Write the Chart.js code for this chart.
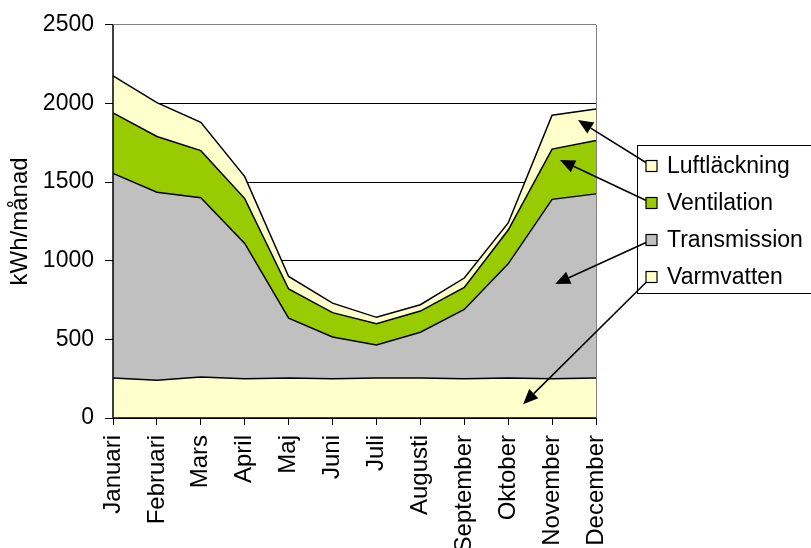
<!DOCTYPE html>
<html>
<head>
<meta charset="utf-8">
<script src="https://cdn.jsdelivr.net/npm/chart.js@4.4.1/dist/chart.umd.min.js"></script>
<style>
  html, body { margin: 0; padding: 0; background: #fff; }
  #wrap { width: 811px; height: 548px; }
</style>
</head>
<body>
<div id="wrap"><canvas id="energi"></canvas></div>
<script>
// Månadsdata (kWh/månad)
const manader = ['Januari', 'Februari', 'Mars', 'April', 'Maj', 'Juni', 'Juli',
    'Augusti', 'September', 'Oktober', 'November', 'December'];
const varmvatten   = [255, 240, 260, 250, 255, 250, 255, 255, 250, 255, 250, 255];
const transmission = [1300, 1195, 1140, 860, 380, 265, 210, 290, 440, 725, 1140, 1170];
const ventilation  = [385, 355, 300, 285, 185, 155, 135, 135, 140, 215, 320, 340];
const luftlackning = [235, 215, 180, 140, 80, 60, 40, 40, 60, 45, 215, 200];
const yTicks = [0, 500, 1000, 1500, 2000, 2500];

const FONT = "'Liberation Sans', Arial, sans-serif";
Chart.defaults.font.family = FONT;
Chart.defaults.font.size = 23;
Chart.defaults.color = '#000';

// Legendens ordning (uppifrån) och pilarnas spetsar i dataläge (index, kWh)
const legendRader = [
    { namn: 'Luftläckning', farg: '#FFFFCC', spets: [10.59, 1894] },
    { namn: 'Ventilation',  farg: '#99CC00', spets: [10.18, 1641] },
    { namn: 'Transmission', farg: '#C0C0C0', spets: [10.07, 852] },
    { namn: 'Varmvatten',   farg: '#FFFFCC', spets: [9.34, 88] }
];

function pil(ctx, x1, y1, x2, y2) {
    // linje från (x1,y1) till spetsen (x2,y2) med fylld pilspets
    const vinkel = Math.atan2(y2 - y1, x2 - x1);
    const len = 15, bredd = 6.5;
    const bx = x2 - len * Math.cos(vinkel), by = y2 - len * Math.sin(vinkel);
    ctx.beginPath();
    ctx.moveTo(x1, y1);
    ctx.lineTo(bx, by);
    ctx.strokeStyle = '#000';
    ctx.lineWidth = 1.5;
    ctx.stroke();
    ctx.beginPath();
    ctx.moveTo(x2, y2);
    ctx.lineTo(bx + bredd * Math.sin(vinkel), by - bredd * Math.cos(vinkel));
    ctx.lineTo(bx - bredd * Math.sin(vinkel), by + bredd * Math.cos(vinkel));
    ctx.closePath();
    ctx.fillStyle = '#000';
    ctx.fill();
}

const ramOchLegend = {
    id: 'ramOchLegend',
    afterDraw(chart) {
        const { ctx, chartArea: a, scales } = chart;
        ctx.save();
        // ram: grå höger, svarta axlar
        ctx.lineWidth = 1;
        ctx.strokeStyle = '#808080';
        ctx.beginPath();
        ctx.moveTo(a.right + 0.5, a.top);
        ctx.lineTo(a.right + 0.5, a.bottom);
        ctx.stroke();
        ctx.strokeStyle = '#000';
        ctx.lineWidth = 1.5;
        ctx.beginPath();
        ctx.moveTo(a.left, a.top);
        ctx.lineTo(a.left, a.bottom);
        ctx.lineTo(a.right, a.bottom);
        ctx.stroke();

        // legendruta
        const lx = a.right + 41, ly = 145, rad = 37;
        const lh = rad * legendRader.length;
        ctx.lineWidth = 1;
        ctx.strokeStyle = '#000';
        ctx.fillStyle = '#fff';
        ctx.fillRect(lx, ly, 200, lh);
        ctx.strokeRect(lx + 0.5, ly + 0.5, 200, lh);

        legendRader.forEach((r, i) => {
            const cy = ly + 21 + i * rad;
            const sx = lx + 9, s = 11;
            const tx = scales.x.getPixelForValue(r.spets[0]);
            const ty = scales.y.getPixelForValue(r.spets[1]);
            pil(ctx, sx + s / 2, cy, tx, ty);
            ctx.fillStyle = r.farg;
            ctx.fillRect(sx, cy - s / 2, s, s);
            ctx.strokeStyle = '#000';
            ctx.lineWidth = 1.2;
            ctx.strokeRect(sx, cy - s / 2, s, s);
            ctx.fillStyle = '#000';
            ctx.font = '23px ' + FONT;
            ctx.textAlign = 'left';
            ctx.textBaseline = 'middle';
            ctx.fillText(r.namn, lx + 30, cy + 1);
        });
        ctx.restore();
    }
};

const gemensam = { pointRadius: 0, borderColor: '#000', borderWidth: 1.5, tension: 0 };

new Chart(document.getElementById('energi').getContext('2d'), {
    type: 'line',
    data: {
        labels: manader,
        datasets: [
            { label: 'Varmvatten', data: varmvatten, backgroundColor: '#FFFFCC', fill: 'origin', ...gemensam },
            { label: 'Transmission', data: transmission, backgroundColor: '#C0C0C0', fill: '-1', ...gemensam },
            { label: 'Ventilation', data: ventilation, backgroundColor: '#99CC00', fill: '-1', ...gemensam },
            { label: 'Luftläckning', data: luftlackning, backgroundColor: '#FFFFCC', fill: '-1', ...gemensam }
        ]
    },
    options: {
        responsive: true,
        maintainAspectRatio: false,
        animation: false,
        layout: { padding: { top: 22, right: 215, left: 0, bottom: 0 } },
        plugins: {
            legend: { display: false },
            tooltip: { enabled: false }
        },
        scales: {
            x: {
                offset: false,
                grid: { drawOnChartArea: false, color: '#000', tickLength: 7, lineWidth: 1 },
                border: { display: false },
                ticks: {
                    color: '#000', font: { family: FONT, size: 24 },
                    maxRotation: 90, minRotation: 90, padding: 10, autoSkip: false
                },
                afterFit(scale) { scale.height = 130; }
            },
            y: {
                stacked: true,
                min: 0,
                max: 2500,
                afterBuildTicks(scale) { scale.ticks = yTicks.map(v => ({ value: v })); },
                grid: {
                    color: ctx => (ctx.tick && ctx.tick.value === 2500) ? '#808080' : '#000',
                    tickColor: '#000',
                    lineWidth: 1,
                    tickLength: 8
                },
                border: { display: false },
                ticks: {
                    color: '#000', font: { family: FONT, size: 23 }, padding: 11,
                    callback: v => String(v)
                },
                title: {
                    display: true, text: 'kWh/månad', color: '#000',
                    font: { family: FONT, size: 24 }, padding: { top: 6, bottom: 0 }
                },
                afterFit(scale) { scale.width = 113; }
            }
        }
    },
    plugins: [ramOchLegend]
});
</script>
</body>
</html>
